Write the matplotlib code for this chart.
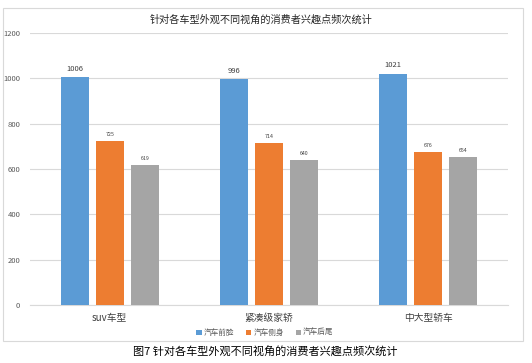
import matplotlib
matplotlib.use("Agg")
import matplotlib.pyplot as plt
from matplotlib.patches import Rectangle
import numpy as np

plt.rcParams['font.family'] = ['Noto Sans CJK SC', 'DejaVu Sans']

categories = ["suv车型", "紧凑级家轿", "中大型轿车"]
series_names = ["汽车前脸", "汽车侧身", "汽车后尾"]
front = [1006, 996, 1021]
side = [725, 714, 676]
rear = [619, 640, 654]
yticks = [0, 200, 400, 600, 800, 1000, 1200]
colors = ["#5B9BD5", "#ED7D31", "#A5A5A5"]
title = "针对各车型外观不同视角的消费者兴趣点频次统计"
caption = "图7 针对各车型外观不同视角的消费者兴趣点频次统计"

W, H = 532, 363
fig = plt.figure(figsize=(W / 100, H / 100), dpi=100)
ax = fig.add_axes([30 / W, 1 - 305 / H, 478 / W, 272 / H])

x = np.arange(len(categories))
width = 0.175
step = 0.22
for i, (vals, name, c) in enumerate(zip([front, side, rear], series_names, colors)):
    pos = x + (i - 1) * step
    ax.bar(pos, vals, width=width, color=c, label=name, zorder=3)
    for p, v in zip(pos, vals):
        fs = 5.5 if i == 0 else 3.8
        ax.text(p, v + 18, str(v), ha='center', va='bottom', fontsize=fs, color='#404040')

ax.set_xlim(-0.5, 2.5)
ax.set_ylim(0, 1200)
ax.set_yticks(yticks)
ax.set_yticklabels([str(t) for t in yticks], fontsize=5.5, color='#595959')
ax.set_xticks(x)
ax.set_xticklabels(categories, fontsize=7, color='#404040')
ax.tick_params(axis='x', length=0, pad=6)
ax.tick_params(axis='y', length=0, pad=7)
ax.grid(axis='y', color='#D9D9D9', linewidth=0.8, zorder=0)
for s in ['top', 'right', 'left']:
    ax.spines[s].set_visible(False)
ax.spines['bottom'].set_color('#D9D9D9')

fig.legend(loc='center', bbox_to_anchor=(265 / W, 1 - 333 / H), ncol=3, frameon=False,
           fontsize=5.5, handlelength=0.7, handleheight=0.7, handletextpad=0.3,
           columnspacing=1.5, labelcolor='#595959')

fig.text(261 / W, 1 - 20 / H, title, ha='center', va='center', fontsize=7.3, color='#262626')
fig.text(265 / W, 1 - 352 / H, caption, ha='center', va='center', fontsize=8, color='#000000')

fig.patches.append(Rectangle((3 / W, 1 - 341 / H), 520 / W, 333 / H, transform=fig.transFigure,
                             fill=False, edgecolor='#D9D9D9', linewidth=0.8))

fig.savefig("out.png", dpi=100)
